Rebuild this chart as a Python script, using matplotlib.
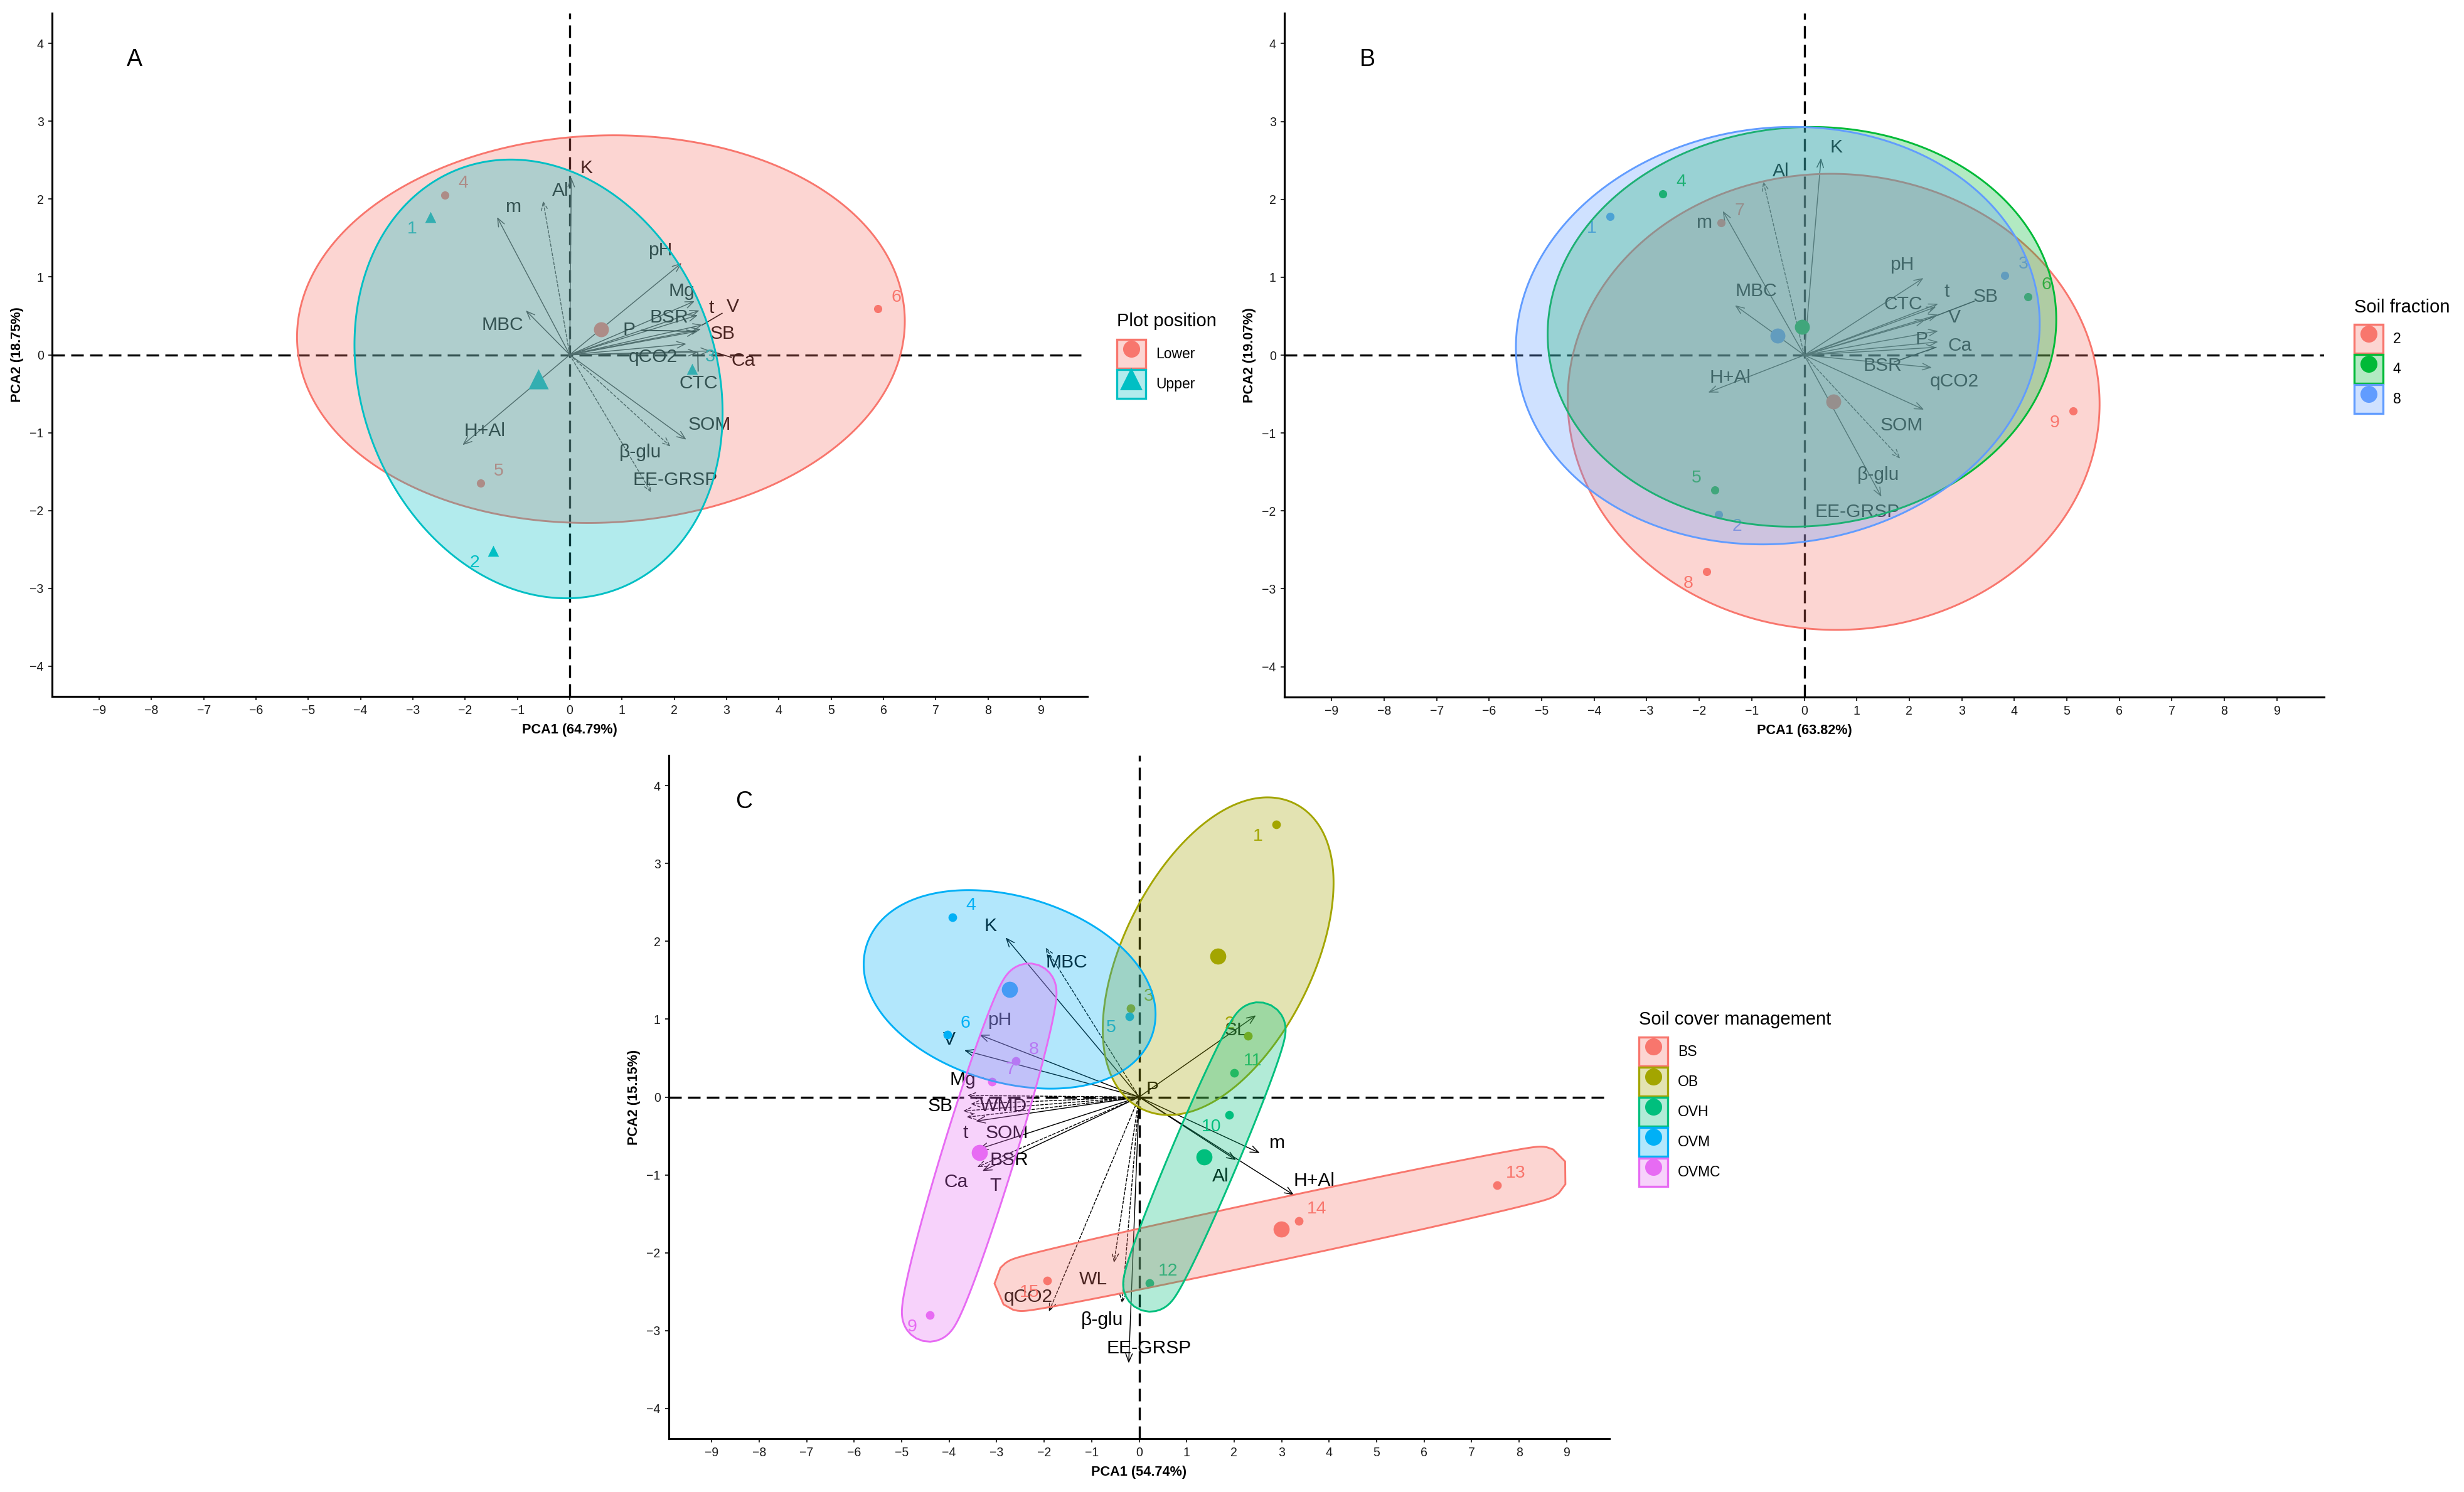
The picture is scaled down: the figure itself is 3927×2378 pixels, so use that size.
import numpy as np
import matplotlib
matplotlib.use("Agg")
import matplotlib.pyplot as plt
from matplotlib.patches import Polygon, FancyArrowPatch, Patch
from matplotlib.lines import Line2D
from matplotlib.legend_handler import HandlerTuple
from matplotlib.colors import to_rgba

plt.rcParams['font.family'] = ['Liberation Sans', 'DejaVu Sans']

# ---------------- DATA ----------------
# Panel A : plot position
A_samples = ['1', '2', '3', '4', '5', '6']
A_groups = ['Upper', 'Upper', 'Upper', 'Lower', 'Lower', 'Lower']
A_pc1 = [-2.66, -1.47, 2.34, -2.39, -1.71, 5.89]
A_pc2 = [1.77, -2.52, -0.18, 2.05, -1.65, 0.59]
A_levels = ['Lower', 'Upper']
A_vars = ['K', 'Al', 'm', 'MBC', 'pH', 'Mg', 't', 'V', 'BSR', 'P', 'SB', 'qCO2', 'Ca',
          'CTC', 'SOM', 'β-glu', 'EE-GRSP', 'H+Al']
A_load1 = [0.03, -0.51, -1.39, -0.84, 2.14, 2.39, 2.48, 2.54, 2.45, 2.42, 2.51, 2.23, 2.69,
           2.45, 2.23, 1.93, 1.56, -2.05]
A_load2 = [2.28, 1.98, 1.77, 0.57, 1.18, 0.69, 0.57, 0.385, 0.51, 0.30, 0.33, 0.14, 0.05,
           0.03, -1.09, -1.18, -1.77, -1.16]
A_xlabel = 'PCA1 (64.79%)'
A_ylabel = 'PCA2 (18.75%)'

# Panel B : soil fraction
B_samples = ['1', '2', '3', '4', '5', '6', '7', '8', '9']
B_groups = ['8', '8', '8', '4', '4', '4', '2', '2', '2']
B_pc1 = [-3.70, -1.63, 3.82, -2.69, -1.70, 4.26, -1.58, -1.86, 5.12]
B_pc2 = [1.78, -2.05, 1.02, 2.07, -1.73, 0.75, 1.70, -2.78, -0.72]
B_levels = ['2', '4', '8']
B_vars = ['K', 'Al', 'm', 'MBC', 'H+Al', 'pH', 'CTC', 't', 'SB', 'V', 'P', 'Ca', 'BSR',
          'qCO2', 'SOM', 'β-glu', 'EE-GRSP']
B_load1 = [0.32, -0.78, -1.55, -1.32, -1.83, 2.27, 2.55, 2.51, 2.30, 2.55, 2.55, 2.55, 2.51,
           2.43, 2.28, 1.83, 1.47]
B_load2 = [2.53, 2.23, 1.85, 0.64, -0.48, 0.99, 0.66, 0.62, 0.45, 0.52, 0.31, 0.17, 0.10,
           -0.16, -0.70, -1.33, -1.82]
B_xlabel = 'PCA1 (63.82%)'
B_ylabel = 'PCA2 (19.07%)'

# Panel C : soil cover management
C_samples = [str(i) for i in range(1, 16)]
C_groups = ['OB'] * 3 + ['OVM'] * 3 + ['OVMC'] * 3 + ['OVH'] * 3 + ['BS'] * 3
C_pc1 = [2.88, 2.29, -0.18, -3.93, -0.21, -4.04, -3.10, -2.60, -4.40, 1.90, 2.00, 0.22,
         7.54, 3.36, -1.93]
C_pc2 = [3.50, 0.79, 1.14, 2.31, 1.04, 0.80, 0.20, 0.46, -2.80, -0.23, 0.31, -2.39,
         -1.13, -1.59, -2.36]
C_levels = ['BS', 'OB', 'OVH', 'OVM', 'OVMC']
C_vars = ['K', 'MBC', 'pH', 'V', 'Mg', 'SB', 'WMD', 't', 'SOM', 'BSR', 'Ca', 'T', 'P', 'SL',
          'm', 'Al', 'H+Al', 'WL', 'qCO2', 'β-glu', 'EE-GRSP']
C_load1 = [-2.81, -1.97, -3.36, -3.68, -3.62, -3.71, -3.55, -3.64, -3.44, -3.38, -3.41, -3.30,
           0.04, 2.46, 2.54, 2.04, 3.26, -0.53, -1.90, -0.36, -0.22]
C_load2 = [2.05, 1.92, 0.80, 0.60, 0.02, -0.18, -0.09, -0.26, -0.31, -0.67, -0.90, -0.95,
           0.03, 1.05, -0.72, -0.81, -1.26, -2.13, -2.76, -2.65, -3.42]
C_xlabel = 'PCA1 (54.74%)'
C_ylabel = 'PCA2 (15.15%)'

# ---------------- STYLE / LAYOUT ----------------
W, H, DPI = 3927, 2378, 300
COL2 = {'Lower': '#F8766D', 'Upper': '#00BFC4'}
MRK2 = {'Lower': 'o', 'Upper': '^'}
COL3 = {'2': '#F8766D', '4': '#00BA38', '8': '#619CFF'}
COL5 = {'BS': '#F8766D', 'OB': '#A3A500', 'OVH': '#00BF7D', 'OVM': '#00B0F6', 'OVMC': '#E76BF3'}

# variable-label nudges (data units, relative to arrow tip)
A_nudge = [(0.29, 0.12), (0.33, 0.13), (0.32, 0.13), (-0.44, -0.19), (-0.41, 0.16),
           (-0.25, 0.13), (0.23, 0.03), (0.58, 0.23), (-0.55, -0.03), (-1.29, 0.02),
           (0.41, -0.06), (-0.64, -0.17), (0.63, -0.13), (0.01, -0.40), (0.44, 0.19),
           (-0.58, -0.07), (0.46, 0.16), (0.42, 0.18)]
A_segment = ['V', 'P', 'Ca', 'CTC']
A_dashed = ['Al', 'EE-GRSP', 'β-glu']
B_nudge = [(0.29, 0.14), (0.34, 0.13), (-0.35, -0.15), (0.40, 0.18), (0.42, 0.19),
           (-0.41, 0.17), (-0.67, -0.01), (0.21, 0.19), (1.16, 0.30), (0.31, -0.04),
           (-0.31, -0.11), (0.42, -0.05), (-1.02, -0.24), (0.43, -0.18), (-0.42, -0.20),
           (-0.42, -0.21), (-0.46, -0.19)]
B_segment = ['SB', 'BSR']
B_dashed = ['Al', 'β-glu']
C_nudge = [(-0.32, 0.15), (0.44, -0.19), (0.42, 0.19), (-0.32, 0.14), (-0.09, 0.20),
           (-0.48, 0.06), (0.70, -0.03), (-0.01, -0.20), (0.66, -0.15), (0.64, -0.14),
           (-0.44, -0.19), (0.27, -0.19), (0.24, 0.07), (-0.42, -0.19), (0.36, 0.13),
           (-0.33, -0.21), (0.42, 0.18), (-0.43, -0.21), (-0.43, 0.19), (-0.42, -0.22),
           (0.43, 0.19)]
C_segment = []
C_dashed = ['MBC', 'Mg', 'SB', 'WMD', 't', 'Ca', 'WL', 'qCO2', 'β-glu']

DIRS = {'ur': (7, 4.5), 'll': (-7, -4.5), 'ul': (-7, 4.5), 'lr': (7, -4.5)}
A_ldir = ['ll', 'll', 'ur', 'ur', 'ur', 'ur']
B_ldir = ['ll', 'lr', 'ur', 'ur', 'ul', 'ur', 'ur', 'll', 'll']
C_ldir = ['ll', 'ul', 'ur', 'ur', 'll', 'ur', 'ur', 'ur', 'll', 'll', 'ur', 'ur', 'ur', 'ur', 'll']

fig = plt.figure(figsize=(W / DPI, H / DPI), dpi=DPI)


def px_rect(l, t, r, b):
    return [l / W, 1 - b / H, (r - l) / W, (b - t) / H]


def setup_axes(rect, xlabel, ylabel, letter):
    ax = fig.add_axes(rect)
    ax.set_xlim(-9.9, 9.9)
    ax.set_ylim(-4.39, 4.39)
    ax.set_xticks(range(-9, 10))
    ax.set_yticks(range(-4, 5))
    for s in ['top', 'right']:
        ax.spines[s].set_visible(False)
    for s in ['left', 'bottom']:
        ax.spines[s].set_linewidth(0.75)
        ax.spines[s].set_color('black')
    ax.tick_params(length=1.5, width=0.5, color='#333333', labelsize=4.7, pad=1.7,
                   labelcolor='#1a1a1a')
    ax.set_xlabel(xlabel, fontsize=5.2, fontweight='bold', labelpad=2.6)
    ax.set_ylabel(ylabel, fontsize=5.2, fontweight='bold', labelpad=2.2)
    ax.axhline(0, color='black', lw=0.8, ls=(0, (6, 3)), zorder=1)
    ax.axvline(0, color='black', lw=0.8, ls=(0, (6, 3)), zorder=1)
    ax.text(-8.32, 3.79, letter, fontsize=9, ha='center', va='center')
    return ax


def mark_ellipse(ax, xs, ys, color, expand_px=42.0, n=400):
    pts = ax.transData.transform(np.column_stack([xs, ys]))
    c = pts.mean(axis=0)
    d = pts - c
    S = d.T @ d / len(pts)
    w, V = np.linalg.eigh(S)
    w = np.clip(w, 1e-6, None)
    a = np.sqrt(2 * w)  # Steiner circumellipse semi-axes
    t = np.linspace(0, 2 * np.pi, n)
    loc = np.column_stack([a[0] * np.cos(t), a[1] * np.sin(t)])
    nrm = np.column_stack([np.cos(t) / a[0], np.sin(t) / a[1]])
    nrm /= np.linalg.norm(nrm, axis=1)[:, None]
    out = (loc + expand_px * nrm) @ V.T + c
    dat = ax.transData.inverted().transform(out)
    ax.add_patch(Polygon(dat, closed=True, facecolor=to_rgba(color, 0.3),
                         edgecolor=color, lw=0.7, zorder=4))


def draw_biplot(ax, pc1, pc2, groups, levels, cols, mrks, samples, ldirs,
                vars_, l1, l2, nudges, segs, dashed, arrow_col, small, big):
    pc1 = np.asarray(pc1); pc2 = np.asarray(pc2); groups = np.asarray(groups)
    # loadings arrows + labels
    for name, x, y, (dx, dy) in zip(vars_, l1, l2, nudges):
        ls = (0, (3, 2)) if name in dashed else '-'
        ax.add_patch(FancyArrowPatch((0, 0), (x, y),
                                     arrowstyle='->,head_length=0.45,head_width=0.18',
                                     mutation_scale=7, lw=0.35, color=arrow_col,
                                     linestyle=ls, shrinkA=0, shrinkB=0, zorder=2))
        lx, ly = x + dx, y + dy
        ax.text(lx, ly, name, fontsize=7.2, ha='center', va='center', color='black', zorder=3)
        if name in segs:
            p_tip = ax.transData.transform((x, y))
            p_lab = ax.transData.transform((lx, ly))
            v = p_tip - p_lab
            end = p_lab + v / np.linalg.norm(v) * 20
            e = ax.transData.inverted().transform(end)
            ax.plot([x, e[0]], [y, e[1]], color='black', lw=0.4, zorder=2)
    # samples
    for g in levels:
        idx = np.where(groups == g)[0]
        col = cols[g]
        mk = mrks[g] if isinstance(mrks, dict) else 'o'
        sf = 1.8 if mk == '^' else 1.0
        ax.scatter(pc1[idx], pc2[idx], s=small * sf, color=col, marker=mk,
                   linewidths=0, zorder=3)
        ax.scatter([pc1[idx].mean()], [pc2[idx].mean()], s=big * sf, color=col,
                   marker=mk, linewidths=0, zorder=3)
        for i in idx:
            ax.annotate(samples[i], (pc1[i], pc2[i]), xytext=DIRS[ldirs[i]],
                        textcoords='offset points', fontsize=6.8, color=col,
                        ha='center', va='center', zorder=3)
        mark_ellipse(ax, pc1[idx], pc2[idx], col)


def add_legend(ax, title, labels, cols, mrks, x, y_title, y_first):
    fig.text(x / W, 1 - y_title / H, title, fontsize=7, ha='left', va='center')
    handles = []
    for lab in labels:
        mk = mrks[lab] if isinstance(mrks, dict) else 'o'
        ms = 8.5 if mk == '^' else 6.5
        handles.append((Patch(facecolor=to_rgba(cols[lab], 0.3), edgecolor=cols[lab], lw=0.8),
                        Line2D([], [], ls='', marker=mk, color=cols[lab], markersize=ms,
                               markeredgewidth=0)))
    ax.legend(handles, labels, handler_map={tuple: HandlerTuple(ndivide=1, pad=0)},
              loc='upper left', bbox_to_anchor=(x / W, 1 - (y_first - 23) / H),
              bbox_transform=fig.transFigure, frameon=False, fontsize=5.5,
              handlelength=2.0, handleheight=2.7, labelspacing=0.1, handletextpad=0.7,
              borderpad=0, borderaxespad=0)


# ---------------- PANEL A ----------------
axA = setup_axes(px_rect(83, 21, 1733, 1110), A_xlabel, A_ylabel, 'A')
draw_biplot(axA, A_pc1, A_pc2, A_groups, A_levels, COL2, MRK2, A_samples, A_ldir,
            A_vars, A_load1, A_load2, A_nudge, A_segment, A_dashed, '#3a3a3a', 10, 33)
add_legend(axA, 'Plot position', A_levels, COL2, MRK2, 1780, 512, 564)

# ---------------- PANEL B ----------------
axB = setup_axes(px_rect(2047, 21, 3704, 1111), B_xlabel, B_ylabel, 'B')
draw_biplot(axB, B_pc1, B_pc2, B_groups, B_levels, COL3, None, B_samples, B_ldir,
            B_vars, B_load1, B_load2, B_nudge, B_segment, B_dashed, '#3a3a3a', 10, 33)
add_legend(axB, 'Soil fraction', B_levels, COL3, None, 3752, 490, 540)

# ---------------- PANEL C ----------------
axC = setup_axes(px_rect(1066, 1204, 2565, 2293), C_xlabel, C_ylabel, 'C')
draw_biplot(axC, C_pc1, C_pc2, C_groups, C_levels, COL5, None, C_samples, C_ldir,
            C_vars, C_load1, C_load2, C_nudge, C_segment, C_dashed, 'black', 11, 38)
add_legend(axC, 'Soil cover management', C_levels, COL5, None, 2612, 1625, 1676)

fig.savefig('out.png', dpi=DPI)
